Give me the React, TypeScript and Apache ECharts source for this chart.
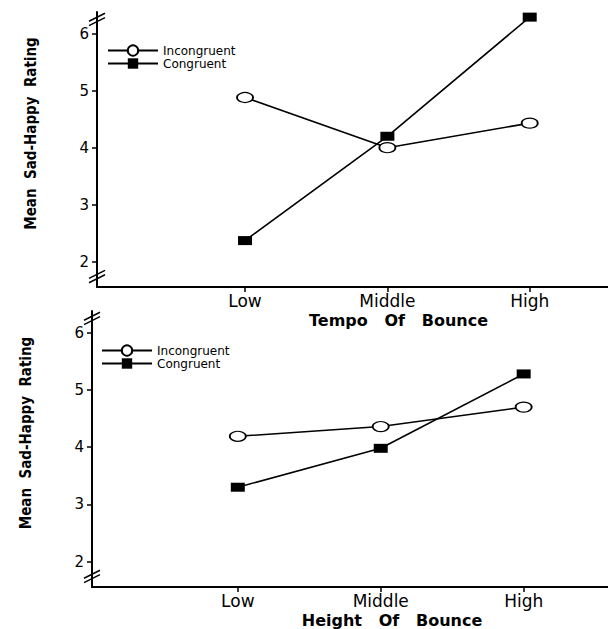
import React, { useEffect, useRef } from 'react';
import * as echarts from 'echarts';

const levels = ['Low', 'Middle', 'High'];
const levelPositions = [1, 2, 3];
const yTicks = [2, 3, 4, 5, 6];
const seriesNames = ['Incongruent', 'Congruent'];
const tempoIncongruent = [4.88, 4.0, 4.43];
const tempoCongruent = [2.37, 4.2, 6.29];
const heightIncongruent = [4.19, 4.36, 4.7];
const heightCongruent = [3.3, 3.98, 5.28];
const panelTitles = ['Tempo   Of   Bounce', 'Height   Of   Bounce'];
const yTitle = 'Mean  Sad-Happy  Rating';
const breakValues = [6.25, 1.74];

const toPoints = (vals: number[]) => vals.map((v, i) => [levelPositions[i], v]);

export default function App() {
  const ref = useRef<HTMLDivElement>(null);
  useEffect(() => {
    if (!ref.current) return;
    const chart = echarts.init(ref.current, null, { renderer: 'svg' });
    const black = '#000';
    const grids = [
      { left: 97, top: 12, width: 511, height: 275, xmin: -0.04, xmax: 3.55, titlePad: 92 },
      { left: 92, top: 311, width: 516, height: 276, xmin: -0.02, xmax: 3.59, titlePad: 84 },
    ];
    const xAxis = grids.map((g, i) => ({
      type: 'value',
      gridIndex: i,
      min: g.xmin,
      max: g.xmax,
      axisLine: { show: true, onZero: false, lineStyle: { color: black, width: 2 } },
      axisTick: { show: true, customValues: levelPositions, length: 5, lineStyle: { color: black, width: 1.5 } },
      axisLabel: {
        customValues: levelPositions,
        formatter: (v: number) => levels[levelPositions.indexOf(v)] ?? '',
        color: black,
        fontFamily: 'DejaVu Sans',
        fontSize: 17,
        lineHeight: 16,
        margin: 6,
      },
      splitLine: { show: false },
      name: panelTitles[i],
      nameLocation: 'middle',
      nameGap: 25,
      nameTextStyle: {
        fontFamily: 'DejaVu Sans',
        fontWeight: 'bold',
        fontSize: 16,
        lineHeight: 16,
        color: black,
        padding: [0, 0, 0, g.titlePad],
      },
    }));
    const yAxis = grids.map((g, i) => ({
      type: 'value',
      gridIndex: i,
      min: 1.556,
      max: 6.38,
      axisLine: { show: true, onZero: false, lineStyle: { color: black, width: 2 } },
      axisTick: { show: true, customValues: yTicks, length: 5, lineStyle: { color: black, width: 1.5 } },
      axisLabel: {
        customValues: yTicks,
        color: black,
        fontFamily: 'DejaVu Sans',
        fontSize: 15,
        margin: 8,
      },
      splitLine: { show: false },
      name: yTitle,
      nameLocation: 'middle',
      nameRotate: 90,
      nameGap: 59,
      nameTextStyle: {
        fontFamily: '"DejaVu Sans Condensed", "Liberation Sans", sans-serif',
        fontWeight: 'bold',
        fontSize: 15,
        color: black,
        padding: [0, 0, 0, 32],
      },
    }));
    const panels = [
      [tempoIncongruent, tempoCongruent],
      [heightIncongruent, heightCongruent],
    ];
    const series: any[] = [];
    panels.forEach((p, i) => {
      series.push({
        type: 'line',
        name: seriesNames[1],
        xAxisIndex: i,
        yAxisIndex: i,
        data: toPoints(p[1]),
        symbol: 'rect',
        symbolSize: [14, 9],
        lineStyle: { color: black, width: 1.6 },
        itemStyle: { color: black, borderColor: black, borderWidth: 0 },
        z: 2,
      });
      series.push({
        type: 'line',
        name: seriesNames[0],
        xAxisIndex: i,
        yAxisIndex: i,
        data: toPoints(p[0]),
        symbol: 'circle',
        symbolSize: [16, 10],
        showAllSymbol: true,
        lineStyle: { color: black, width: 1.6 },
        itemStyle: { color: '#fff', borderColor: black, borderWidth: 1.5 },
        z: 3,
      });
    });
    const legendBase = {
      orient: 'vertical',
      itemWidth: 50,
      itemHeight: 13,
      itemGap: 0,
      padding: 0,
      data: seriesNames,
      selectedMode: false,
      textStyle: { fontFamily: 'DejaVu Sans', fontSize: 12, color: black, lineHeight: 13 },
    };
    chart.setOption({
      animation: false,
      backgroundColor: '#fff',
      grid: grids.map((g) => ({
        left: g.left,
        top: g.top,
        width: g.width,
        height: g.height,
        containLabel: false,
        outerBoundsMode: 'none',
      })),
      xAxis,
      yAxis,
      legend: [
        { ...legendBase, left: 107, top: 44 },
        { ...legendBase, left: 101, top: 344 },
      ],
      series,
    });
    const graphics: any[] = [];
    grids.forEach((g, i) => {
      breakValues.forEach((bv) => {
        const pt = chart.convertToPixel({ xAxisIndex: i, yAxisIndex: i } as any, [g.xmin, bv]) as number[];
        const [px, py] = pt;
        [-2.2, 2.2].forEach((dy) => {
          graphics.push({
            type: 'line',
            shape: { x1: px - 8, y1: py + dy + 4, x2: px + 8, y2: py + dy - 4 },
            style: { stroke: black, lineWidth: 1.5 },
            z: 10,
          });
        });
      });
    });
    chart.setOption({ graphic: graphics });
    return () => chart.dispose();
  }, []);
  return <div ref={ref} style={{ width: 608, height: 629, position: 'absolute', left: 0, top: 0 }} />;
}
